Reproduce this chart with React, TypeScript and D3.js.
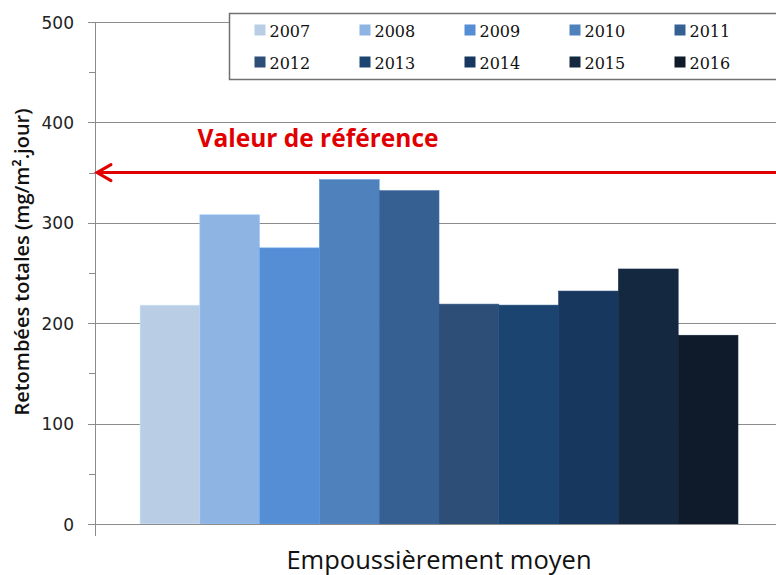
import { useEffect, useRef } from "react";
import * as d3 from "d3";

const years = ["2007", "2008", "2009", "2010", "2011", "2012", "2013", "2014", "2015", "2016"];
const values = [218, 308, 275, 343, 332, 219, 218, 232, 254, 188];
const colors = [
  "#b9cde5", "#8eb4e3", "#558ed5", "#4f81bd", "#376092",
  "#2d4e76", "#1c4470", "#17375e", "#14283f", "#0f1b2b",
];
const category = ["Empoussièrement moyen"];
const yTicks = [0, 100, 200, 300, 400, 500];
const referenceValue = 350;

export default function App() {
  const svgRef = useRef<SVGSVGElement>(null);

  useEffect(() => {
    const svg = d3.select(svgRef.current);
    svg.selectAll("*").remove();

    const width = 776;
    const height = 575;
    const margin = { top: 22, right: -7, bottom: 51, left: 95 };
    const font = "Open Sans, sans-serif";

    const y = d3.scaleLinear().domain([0, 500]).range([height - margin.bottom, margin.top]);
    const x0 = d3
      .scaleBand()
      .domain(category)
      .range([margin.left, width - margin.right])
      .paddingInner(0)
      .paddingOuter(0.0753);
    const x1 = d3.scaleBand().domain(years).range([0, x0.bandwidth()]).padding(0);

    svg.append("rect").attr("width", width).attr("height", height).attr("fill", "#fff");

    // gridlines
    svg
      .append("g")
      .selectAll("line")
      .data(yTicks.slice(1))
      .enter()
      .append("line")
      .attr("x1", margin.left - 7)
      .attr("x2", width)
      .attr("y1", (d) => Math.round(y(d)) + 0.5)
      .attr("y2", (d) => Math.round(y(d)) + 0.5)
      .attr("stroke", "#8c8c8c")
      .attr("stroke-width", 1);

    // minor ticks
    svg
      .append("g")
      .selectAll("line")
      .data(d3.range(50, 500, 100))
      .enter()
      .append("line")
      .attr("x1", margin.left - 6)
      .attr("x2", margin.left)
      .attr("y1", (d) => Math.round(y(d)) + 0.5)
      .attr("y2", (d) => Math.round(y(d)) + 0.5)
      .attr("stroke", "#8c8c8c");

    // bars
    const g = svg.append("g").attr("transform", `translate(${x0(category[0])},0)`);
    g.selectAll("rect")
      .data(values)
      .enter()
      .append("rect")
      .attr("x", (_, i) => x1(years[i])!)
      .attr("y", (d) => y(d))
      .attr("width", x1.bandwidth())
      .attr("height", (d) => y(0) - y(d))
      .attr("fill", (_, i) => colors[i])
      .attr("stroke", (_, i) => d3.color(colors[i])!.brighter(0.4).formatHex())
      .attr("stroke-width", 0.6);

    // axes lines
    svg
      .append("line")
      .attr("x1", margin.left + 0.5)
      .attr("x2", margin.left + 0.5)
      .attr("y1", margin.top)
      .attr("y2", y(0) + 12)
      .attr("stroke", "#8c8c8c");
    svg
      .append("line")
      .attr("x1", margin.left - 7)
      .attr("x2", width)
      .attr("y1", Math.round(y(0)) + 0.5)
      .attr("y2", Math.round(y(0)) + 0.5)
      .attr("stroke", "#8c8c8c");

    // y tick labels
    svg
      .append("g")
      .selectAll("text")
      .data(yTicks)
      .enter()
      .append("text")
      .attr("x", 74)
      .attr("y", (d) => y(d) + 6.5)
      .attr("text-anchor", "end")
      .attr("font-family", "DejaVu Sans, sans-serif")
      .attr("font-size", 17)
      .attr("fill", "#222")
      .text((d) => d);

    // y axis title
    svg
      .append("text")
      .attr("transform", `translate(29,${262}) rotate(-90)`)
      .attr("text-anchor", "middle")
      .attr("font-family", font)
      .attr("font-weight", 600)
      .attr("font-size", 20)
      .attr("fill", "#111")
      .text("Retombées totales (mg/m².jour)");

    // x axis title
    svg
      .append("text")
      .attr("x", x0(category[0])! + x0.bandwidth() / 2)
      .attr("y", 569)
      .attr("text-anchor", "middle")
      .attr("font-family", font)
      .attr("font-size", 25.5)
      .attr("fill", "#111")
      .text(category[0]);

    // reference line with arrow
    const ry = y(referenceValue);
    svg
      .append("line")
      .attr("x1", margin.left + 2)
      .attr("x2", width)
      .attr("y1", ry)
      .attr("y2", ry)
      .attr("stroke", "#e00000")
      .attr("stroke-width", 3);
    svg
      .append("path")
      .attr("d", `M${margin.left + 16},${ry - 8} L${margin.left + 2},${ry} L${margin.left + 16},${ry + 8}`)
      .attr("fill", "none")
      .attr("stroke", "#e00000")
      .attr("stroke-width", 3)
      .attr("stroke-linecap", "round");
    svg
      .append("text")
      .attr("x", 318)
      .attr("y", 147)
      .attr("text-anchor", "middle")
      .attr("font-family", font)
      .attr("font-weight", 700)
      .attr("font-size", 24.5)
      .attr("fill", "#e00000")
      .text("Valeur de référence");

    // legend
    const legend = svg.append("g").attr("transform", "translate(229.5,13.5)");
    legend
      .append("rect")
      .attr("width", 560)
      .attr("height", 66)
      .attr("fill", "#fff")
      .attr("stroke", "#707070")
      .attr("stroke-width", 1.5);
    const items = legend
      .selectAll("g")
      .data(years)
      .enter()
      .append("g")
      .attr("transform", (_, i) => `translate(${25 + (i % 5) * 105},${i < 5 ? 17 : 49})`);
    items
      .append("rect")
      .attr("x", 0)
      .attr("y", -6)
      .attr("width", 11)
      .attr("height", 11)
      .attr("fill", (_, i) => colors[i]);
    items
      .append("text")
      .attr("x", 15)
      .attr("y", 6)
      .attr("font-family", "DejaVu Serif, serif")
      .attr("font-size", 16)
      .attr("fill", "#111")
      .text((d) => d);
  }, []);

  return (
    <svg
      ref={svgRef}
      width={776}
      height={575}
      style={{ position: "absolute", left: 0, top: 0, display: "block" }}
    />
  );
}
